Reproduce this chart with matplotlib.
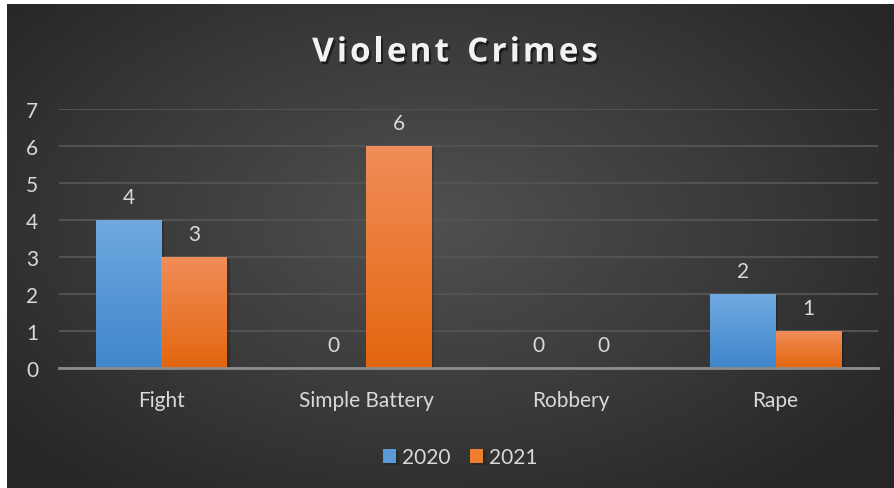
import numpy as np
import matplotlib
matplotlib.use("Agg")
import matplotlib.pyplot as plt
import matplotlib.patheffects as pe
from matplotlib.colors import LinearSegmentedColormap

categories = ["Fight", "Simple Battery", "Robbery", "Rape"]
series_names = ["2020", "2021"]
values_2020 = [4, 0, 0, 2]
values_2021 = [3, 6, 0, 1]
y_ticks = [0, 1, 2, 3, 4, 5, 6, 7]
title = "Violent Crimes"

TXT = "#d9d9d9"
FS = 15
plt.rcParams["font.family"] = ["Lato", "DejaVu Sans"]

fig = plt.figure(figsize=(8.94, 4.89), dpi=100, facecolor="white")

# dark radial background (chart area, white strip on left/top)
bg = fig.add_axes([7 / 894, 0, 1 - 7 / 894, 1 - 5 / 489])
bg.set_axis_off()
yy, xx = np.mgrid[0:1:300j, 0:1:500j]
r = np.sqrt(((xx - 0.48) / 0.75) ** 2 + ((yy - 0.45) / 0.85) ** 2)
r = np.clip(r / 0.85, 0, 1)
bg_cmap = LinearSegmentedColormap.from_list("bg", ["#505050", "#3c3c3c", "#262626"])
bg.imshow(r, cmap=bg_cmap, aspect="auto", extent=[0, 1, 0, 1], vmin=0, vmax=1)
bg.set_xlim(0, 1)
bg.set_ylim(0, 1)

ax = fig.add_axes([59 / 894, 1 - 369 / 489, 819 / 894, 259 / 489])
ax.patch.set_alpha(0)

x = np.arange(len(categories))
w = 0.32
blue_cmap = LinearSegmentedColormap.from_list("b", ["#3f86cb", "#70a9e0"])
orange_cmap = LinearSegmentedColormap.from_list("o", ["#e3660f", "#f18d58"])

shadow = [pe.SimplePatchShadow(offset=(2, -1.5), shadow_rgbFace="black", alpha=0.18), pe.Normal()]
b1 = ax.bar(x - w / 2, values_2020, width=w, color="#5b9bd5", zorder=3, path_effects=shadow)
b2 = ax.bar(x + w / 2, values_2021, width=w, color="#ed7d31", zorder=3, path_effects=shadow)

grad = np.linspace(0, 1, 100).reshape(-1, 1)
for bars, cm in [(b1, blue_cmap), (b2, orange_cmap)]:
    for bar in bars:
        h = bar.get_height()
        if h <= 0:
            continue
        x0 = bar.get_x()
        im = ax.imshow(grad, cmap=cm, aspect="auto", origin="lower",
                       extent=[x0, x0 + bar.get_width(), 0, h], zorder=4)
        im.set_clip_path(bar)

for bars in [b1, b2]:
    for bar in bars:
        h = bar.get_height()
        ax.annotate(f"{int(h)}", (bar.get_x() + bar.get_width() / 2, h),
                    xytext=(0, 9), textcoords="offset points",
                    ha="center", va="bottom", fontsize=FS, color=TXT, zorder=5)

ax.set_xlim(-0.5, len(categories) - 0.5)
ax.set_ylim(0, 7)
ax.set_yticks(y_ticks)
ax.set_xticks(x)
ax.set_xticklabels(categories)
ax.tick_params(axis="both", length=0, colors=TXT, labelsize=FS)
ax.tick_params(axis="y", pad=15)
ax.tick_params(axis="x", pad=16)
ax.grid(axis="y", color="#525252", linewidth=1.5, zorder=0)
for s in ["top", "right", "left"]:
    ax.spines[s].set_visible(False)
ax.spines["bottom"].set_color("#8c8c8c")
ax.spines["bottom"].set_linewidth(2)
ax.spines["bottom"].set_zorder(6)

leg = ax.legend([b1, b2], series_names, loc="center", bbox_to_anchor=(0.49, -0.345),
                ncol=2, frameon=False, fontsize=FS, labelcolor=TXT,
                handlelength=0.65, handleheight=0.65, handletextpad=0.3, columnspacing=0.9)

# title with extra letter spacing
title_kw = dict(fontsize=24, fontweight="bold", color="#f2f2f2",
                family=["Open Sans", "DejaVu Sans"], va="center", ha="left",
                path_effects=[pe.withSimplePatchShadow(offset=(1.5, -2), shadow_rgbFace="black", alpha=0.5)])
renderer = fig.canvas.get_renderer()
spacing = 3.0
widths = []
for ch in title:
    t = fig.text(0, 0, ch if ch != " " else "n", **title_kw)
    bb = t.get_window_extent(renderer)
    widths.append(bb.width * (0.55 if ch == " " else 1.0))
    t.remove()
total = sum(widths) + spacing * (len(title) - 1)
cx = 455
ty = 489 - 54
px = cx - total / 2
for ch, cw in zip(title, widths):
    if ch != " ":
        fig.text(px / 894, ty / 489, ch, **title_kw)
    px += cw + spacing

fig.savefig("out.png", dpi=100, facecolor=fig.get_facecolor())
